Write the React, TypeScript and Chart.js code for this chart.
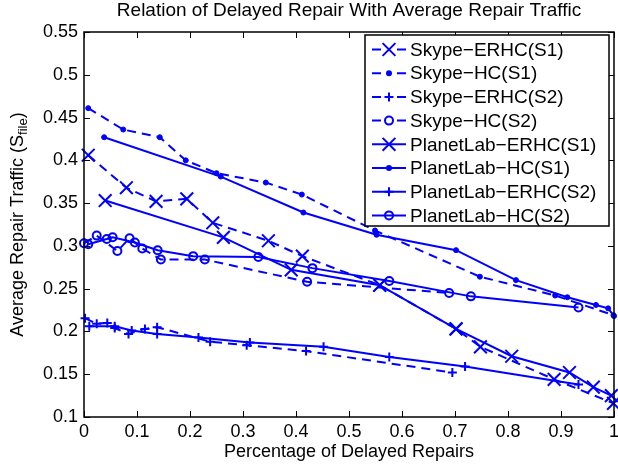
import { useEffect, useRef } from "react";
import { Chart, registerables } from "chart.js";

Chart.register(...registerables);

const TITLE = "Relation of Delayed Repair With Average Repair Traffic";
const X_LABEL = "Percentage of Delayed Repairs";
const Y_LABEL_MAIN = "Average Repair Traffic (S";
const Y_LABEL_SUB = "file";
const Y_LABEL_END = ")";

const X_TICKS = [0, 0.1, 0.2, 0.3, 0.4, 0.5, 0.6, 0.7, 0.8, 0.9, 1];
const Y_TICKS = [0.1, 0.15, 0.2, 0.25, 0.3, 0.35, 0.4, 0.45, 0.5, 0.55];

const SERIES_NAMES = [
  "Skype−ERHC(S1)",
  "Skype−HC(S1)",
  "Skype−ERHC(S2)",
  "Skype−HC(S2)",
  "PlanetLab−ERHC(S1)",
  "PlanetLab−HC(S1)",
  "PlanetLab−ERHC(S2)",
  "PlanetLab−HC(S2)",
];

const skypeErhcS1X = [0.008, 0.08, 0.136, 0.194, 0.243, 0.348, 0.412, 0.558, 0.702, 0.748, 0.887, 0.999];
const skypeErhcS1Y = [0.406, 0.368, 0.352, 0.355, 0.327, 0.306, 0.288, 0.254, 0.203, 0.182, 0.144, 0.116];

const skypeHcS1X = [0.008, 0.074, 0.143, 0.192, 0.25, 0.343, 0.411, 0.549, 0.747, 0.889, 0.999];
const skypeHcS1Y = [0.461, 0.436, 0.427, 0.4, 0.385, 0.374, 0.36, 0.318, 0.264, 0.242, 0.219];

const skypeErhcS2X = [0.002, 0.024, 0.044, 0.058, 0.084, 0.115, 0.138, 0.238, 0.307, 0.419, 0.695];
const skypeErhcS2Y = [0.2155, 0.209, 0.21, 0.204, 0.197, 0.203, 0.205, 0.188, 0.184, 0.177, 0.152];

const skypeHcS2X = [0, 0.024, 0.063, 0.086, 0.11, 0.145, 0.228, 0.421, 0.689];
const skypeHcS2Y = [0.303, 0.312, 0.294, 0.309, 0.297, 0.284, 0.284, 0.258, 0.245];

const planetErhcS1X = [0.04, 0.263, 0.391, 0.558, 0.702, 0.807, 0.916, 0.961, 0.995];
const planetErhcS1Y = [0.353, 0.31, 0.272, 0.254, 0.203, 0.171, 0.152, 0.135, 0.125];

const planetHcS1X = [0.038, 0.258, 0.414, 0.552, 0.702, 0.815, 0.912, 0.966, 0.989, 1.0];
const planetHcS1Y = [0.427, 0.381, 0.339, 0.313, 0.295, 0.26, 0.24, 0.231, 0.227, 0.218];

const planetErhcS2X = [0.01, 0.058, 0.09, 0.138, 0.216, 0.313, 0.452, 0.576, 0.719, 0.933];
const planetErhcS2Y = [0.206, 0.206, 0.201, 0.197, 0.193, 0.187, 0.182, 0.17, 0.159, 0.138];

const planetHcS2X = [0.008, 0.043, 0.054, 0.096, 0.139, 0.206, 0.329, 0.431, 0.576, 0.73, 0.933];
const planetHcS2Y = [0.302, 0.308, 0.31, 0.304, 0.295, 0.288, 0.287, 0.274, 0.259, 0.241, 0.228];

const SERIES_X = [skypeErhcS1X, skypeHcS1X, skypeErhcS2X, skypeHcS2X, planetErhcS1X, planetHcS1X, planetErhcS2X, planetHcS2X];
const SERIES_Y = [skypeErhcS1Y, skypeHcS1Y, skypeErhcS2Y, skypeHcS2Y, planetErhcS1Y, planetHcS1Y, planetErhcS2Y, planetHcS2Y];
const SERIES_MARKER = ["x", "dot", "plus", "o", "x", "dot", "plus", "o"];
const SERIES_DASHED = [true, true, true, true, false, false, false, false];

const BLUE = "#0000ff";
const FONT = '"Liberation Sans", Arial, Helvetica, sans-serif';

function markerOptions(m: string) {
  if (m === "x") return { pointStyle: "crossRot", pointRadius: 9, pointBorderWidth: 2, pointBackgroundColor: BLUE };
  if (m === "plus") return { pointStyle: "cross", pointRadius: 4.5, pointBorderWidth: 2, pointBackgroundColor: BLUE };
  if (m === "o") return { pointStyle: "circle", pointRadius: 4, pointBorderWidth: 2, pointBackgroundColor: "rgba(0,0,0,0)" };
  return { pointStyle: "circle", pointRadius: 2.5, pointBorderWidth: 1, pointBackgroundColor: BLUE };
}

function drawMarker(ctx: CanvasRenderingContext2D, m: string, cx: number, cy: number) {
  ctx.save();
  ctx.strokeStyle = BLUE;
  ctx.fillStyle = BLUE;
  ctx.lineWidth = 2;
  ctx.setLineDash([]);
  ctx.beginPath();
  if (m === "x") {
    const d = 6.4;
    ctx.moveTo(cx - d, cy - d);
    ctx.lineTo(cx + d, cy + d);
    ctx.moveTo(cx - d, cy + d);
    ctx.lineTo(cx + d, cy - d);
    ctx.stroke();
  } else if (m === "plus") {
    const d = 4.5;
    ctx.moveTo(cx - d, cy);
    ctx.lineTo(cx + d, cy);
    ctx.moveTo(cx, cy - d);
    ctx.lineTo(cx, cy + d);
    ctx.stroke();
  } else if (m === "o") {
    ctx.arc(cx, cy, 4, 0, Math.PI * 2);
    ctx.stroke();
  } else {
    ctx.arc(cx, cy, 3, 0, Math.PI * 2);
    ctx.fill();
  }
  ctx.restore();
}

const decorPlugin = {
  id: "decor",
  afterDraw(chart: any) {
    const { ctx, chartArea, scales } = chart;
    const { left, right, top, bottom } = chartArea;
    const xs = scales.x;
    const ys = scales.y;
    ctx.save();
    // inward tick marks
    ctx.strokeStyle = "#000";
    ctx.lineWidth = 1;
    ctx.beginPath();
    X_TICKS.forEach((v) => {
      const px = Math.round(xs.getPixelForValue(v)) + 0.5;
      ctx.moveTo(px, bottom);
      ctx.lineTo(px, bottom - 6);
      ctx.moveTo(px, top);
      ctx.lineTo(px, top + 6);
    });
    Y_TICKS.forEach((v) => {
      const py = Math.round(ys.getPixelForValue(v)) + 0.5;
      ctx.moveTo(left, py);
      ctx.lineTo(left + 6, py);
      ctx.moveTo(right, py);
      ctx.lineTo(right - 6, py);
    });
    ctx.stroke();
    // box
    ctx.lineWidth = 1.5;
    ctx.strokeRect(left, top, right - left, bottom - top);

    // title
    ctx.fillStyle = "#000";
    ctx.font = `19px ${FONT}`;
    ctx.textAlign = "center";
    ctx.textBaseline = "middle";
    ctx.fillText(TITLE, (left + right) / 2, 11);
    // x label
    ctx.font = `18px ${FONT}`;
    ctx.fillText(X_LABEL, (left + right) / 2, 452);
    // y label with subscript
    ctx.save();
    ctx.translate(18, (top + bottom) / 2);
    ctx.rotate(-Math.PI / 2);
    ctx.textAlign = "left";
    ctx.font = `18px ${FONT}`;
    const w1 = ctx.measureText(Y_LABEL_MAIN).width;
    const w3 = ctx.measureText(Y_LABEL_END).width;
    ctx.font = `13px ${FONT}`;
    const w2 = ctx.measureText(Y_LABEL_SUB).width;
    const x0 = -(w1 + w2 + w3) / 2;
    ctx.font = `18px ${FONT}`;
    ctx.fillText(Y_LABEL_MAIN, x0, 0);
    ctx.font = `13px ${FONT}`;
    ctx.fillText(Y_LABEL_SUB, x0 + w1, 5);
    ctx.font = `18px ${FONT}`;
    ctx.fillText(Y_LABEL_END, x0 + w1 + w2, 0);
    ctx.restore();

    // legend
    const lx = 365, ly = 35, lw = 244, lh = 191;
    ctx.fillStyle = "#fff";
    ctx.fillRect(lx, ly, lw, lh);
    ctx.strokeStyle = "#000";
    ctx.lineWidth = 1.5;
    ctx.strokeRect(lx, ly, lw, lh);
    ctx.font = `19px ${FONT}`;
    ctx.textAlign = "left";
    ctx.textBaseline = "middle";
    SERIES_NAMES.forEach((name, i) => {
      const cy = 49.5 + i * 23.7;
      ctx.strokeStyle = BLUE;
      ctx.lineWidth = 2;
      ctx.beginPath();
      if (SERIES_DASHED[i]) {
        ctx.moveTo(372, cy);
        ctx.lineTo(381, cy);
        ctx.moveTo(397, cy);
        ctx.lineTo(406, cy);
      } else {
        ctx.moveTo(372, cy);
        ctx.lineTo(406, cy);
      }
      ctx.stroke();
      drawMarker(ctx, SERIES_MARKER[i], 389, cy);
      ctx.fillStyle = "#000";
      ctx.fillText(name, 410, cy + 1);
    });
    ctx.restore();
  },
};

function fmt(v: number) {
  return String(parseFloat(Number(v).toFixed(2)));
}

export default function App() {
  const ref = useRef<HTMLCanvasElement | null>(null);
  useEffect(() => {
    if (!ref.current) return;
    const datasets = SERIES_NAMES.map((name, i) => ({
      label: name,
      data: SERIES_X[i].map((x, j) => ({ x, y: SERIES_Y[i][j] })),
      borderColor: BLUE,
      borderWidth: 2,
      borderDash: SERIES_DASHED[i] ? [9, 6] : [],
      pointBorderColor: BLUE,
      fill: false,
      tension: 0,
      clip: false as any,
      ...markerOptions(SERIES_MARKER[i]),
    }));
    const chart = new Chart(ref.current, {
      type: "line",
      data: { datasets: datasets as any },
      options: {
        animation: false,
        responsive: true,
        maintainAspectRatio: false,
        layout: { autoPadding: false, padding: { left: 0, right: 4, top: 32, bottom: 0 } },
        plugins: { legend: { display: false }, title: { display: false }, tooltip: { enabled: false } },
        scales: {
          x: {
            type: "linear",
            min: 0,
            max: 1,
            afterBuildTicks: (s: any) => {
              s.ticks = X_TICKS.map((v) => ({ value: v }));
            },
            afterFit: (s: any) => {
              s.height = 51;
              s.paddingRight = 0;
              s.paddingLeft = 0;
            },
            grid: { display: false, drawTicks: false },
            border: { display: false },
            ticks: {
              color: "#000",
              font: { family: FONT, size: 18 },
              padding: 4,
              maxRotation: 0,
              autoSkip: false,
              callback: (v: any) => fmt(v),
            },
          },
          y: {
            type: "linear",
            min: 0.1,
            max: 0.55,
            afterBuildTicks: (s: any) => {
              s.ticks = Y_TICKS.map((v) => ({ value: v }));
            },
            afterFit: (s: any) => {
              s.width = 84;
              s.paddingTop = 0;
              s.paddingBottom = 0;
            },
            grid: { display: false, drawTicks: false },
            border: { display: false },
            ticks: {
              color: "#000",
              font: { family: FONT, size: 18 },
              padding: 6,
              autoSkip: false,
              callback: (v: any) => fmt(v),
            },
          },
        },
      },
      plugins: [decorPlugin],
    });
    return () => chart.destroy();
  }, []);
  return (
    <div style={{ position: "fixed", left: 0, top: 0, width: 618, height: 468, background: "#fff" }}>
      <canvas ref={ref} />
    </div>
  );
}
